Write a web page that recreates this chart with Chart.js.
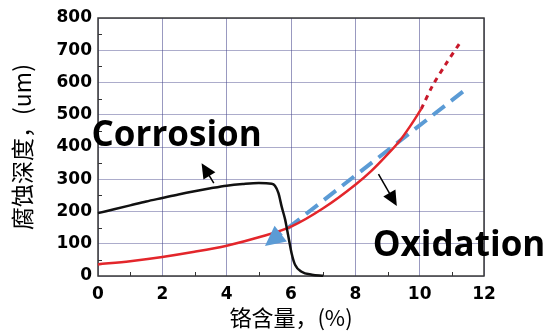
<!DOCTYPE html>
<html>
<head>
<meta charset="utf-8">
<script src="https://cdn.jsdelivr.net/npm/chart.js@4.4.1/dist/chart.umd.min.js"></script>
<style>
  html, body { margin: 0; padding: 0; background: #fff; }
  #wrap { width: 545px; height: 335px; }
</style>
</head>
<body>
<div id="wrap"><canvas id="c" width="545" height="335"></canvas></div>
<script>
// Corrosion depth vs chromium content
const corrosionX = [0, 0.5, 1, 1.5, 2, 2.5, 3, 3.5, 4, 4.5, 5, 5.4, 5.5, 5.61, 5.71, 5.82, 5.87, 5.92, 6.02, 6.13, 6.33, 6.65, 7.0];
const corrosionY = [195, 207, 219, 231, 242, 253, 263, 272, 280, 285, 288, 286, 280, 257, 215, 174, 148, 122, 70, 34, 13, 4, 1];

const oxidationX = [0, 1, 2, 3, 4, 5, 6, 7, 8, 8.5, 9, 9.4, 9.7, 10.05];
const oxidationY = [36, 46, 59, 75, 94, 120, 153, 210, 283, 326, 377, 422, 464, 518];

// extrapolated oxidation trend beyond 10 %
const oxidationExtX = [10.05, 10.4, 10.8, 11.3];
const oxidationExtY = [518, 590, 655, 730];

// linear oxidation trend (arrow points toward lower chromium)
const trendX = [5.19, 11.35];
const trendY = [93, 572];

// annotation arrows: [start, tip] in data units
const corrosionArrow = [[3.6, 288], [3.22, 350]];
const oxidationArrow = [[8.72, 316], [9.29, 217]];

const xTicks = [0, 2, 4, 6, 8, 10, 12];
const yTicks = [0, 100, 200, 300, 400, 500, 600, 700, 800];

const pts = (xs, ys) => xs.map((x, i) => ({ x, y: ys[i] }));

function drawArrowHead(ctx, x0, y0, x1, y1, len, half, color) {
  const a = Math.atan2(y1 - y0, x1 - x0);
  ctx.save();
  ctx.fillStyle = color;
  ctx.beginPath();
  ctx.moveTo(x1, y1);
  ctx.lineTo(x1 - len * Math.cos(a) + half * Math.sin(a), y1 - len * Math.sin(a) - half * Math.cos(a));
  ctx.lineTo(x1 - len * Math.cos(a) - half * Math.sin(a), y1 - len * Math.sin(a) + half * Math.cos(a));
  ctx.closePath();
  ctx.fill();
  ctx.restore();
}

const decorations = {
  id: 'decorations',
  beforeDatasetsDraw(chart) {
    const { ctx, chartArea: a, scales: { x, y } } = chart;
    ctx.save();
    // minor ticks, pointing inward
    ctx.strokeStyle = '#333';
    ctx.lineWidth = 1;
    ctx.beginPath();
    for (let v = 50; v < 800; v += 100) {
      const py = Math.round(y.getPixelForValue(v)) + 0.5;
      ctx.moveTo(a.left, py); ctx.lineTo(a.left + 4, py);
    }
    for (let v = 1; v < 12; v += 2) {
      const px = Math.round(x.getPixelForValue(v)) + 0.5;
      ctx.moveTo(px, a.bottom); ctx.lineTo(px, a.bottom - 4);
    }
    ctx.stroke();
    // frame
    ctx.strokeStyle = '#3a3a3a';
    ctx.lineWidth = 1.5;
    ctx.strokeRect(a.left, a.top, a.right - a.left, a.bottom - a.top);
    ctx.restore();
  },
  afterDatasetsDraw(chart) {
    const { ctx, scales: { x, y } } = chart;
    // arrowhead on the trend line
    const tx0 = x.getPixelForValue(trendX[1]), ty0 = y.getPixelForValue(trendY[1]);
    const tx1 = x.getPixelForValue(trendX[0]), ty1 = y.getPixelForValue(trendY[0]);
    drawArrowHead(ctx, tx0, ty0, tx1, ty1, 20, 10, '#5b9bd5');

    // black annotation arrows
    [corrosionArrow, oxidationArrow].forEach(([s, e]) => {
      const x0 = x.getPixelForValue(s[0]), y0 = y.getPixelForValue(s[1]);
      const x1 = x.getPixelForValue(e[0]), y1 = y.getPixelForValue(e[1]);
      const a = Math.atan2(y1 - y0, x1 - x0);
      ctx.save();
      ctx.strokeStyle = '#000';
      ctx.lineWidth = 1.5;
      ctx.beginPath();
      ctx.moveTo(x0, y0);
      ctx.lineTo(x1 - 10 * Math.cos(a), y1 - 10 * Math.sin(a));
      ctx.stroke();
      ctx.restore();
      drawArrowHead(ctx, x0, y0, x1, y1, 15, 7, '#000');
    });

    // labels
    ctx.save();
    ctx.fillStyle = '#000';
    ctx.font = 'bold 35px "Open Sans"';
    ctx.textBaseline = 'alphabetic';
    ctx.textAlign = 'left';
    ctx.fillText('Corrosion', x.getPixelForValue(-0.2), y.getPixelForValue(404));
    ctx.fillText('Oxidation', x.getPixelForValue(8.54), y.getPixelForValue(62));
    ctx.restore();
  }
};

new Chart(document.getElementById('c'), {
  type: 'line',
  data: {
    datasets: [
      { data: pts(corrosionX, corrosionY), borderColor: '#111', borderWidth: 2.5, cubicInterpolationMode: 'monotone', pointRadius: 0 },
      { data: pts(oxidationX, oxidationY), borderColor: '#e3262b', borderWidth: 2.5, cubicInterpolationMode: 'monotone', pointRadius: 0 },
      { data: pts(oxidationExtX, oxidationExtY), borderColor: '#c8182a', borderWidth: 3, borderDash: [5, 5], tension: 0.3, pointRadius: 0 },
      { data: pts(trendX, trendY), borderColor: '#5b9bd5', borderWidth: 4, borderDash: [15, 8], borderDashOffset: -6, pointRadius: 0 }
    ]
  },
  options: {
    responsive: false,
    animation: false,
    devicePixelRatio: 1,
    clip: false,
    layout: { padding: { top: 18, right: 61, left: 0, bottom: 0 } },
    plugins: { legend: { display: false }, tooltip: { enabled: false } },
    scales: {
      x: {
        type: 'linear', min: 0, max: 12,
        afterBuildTicks: s => { s.ticks = xTicks.map(v => ({ value: v })); },
        afterFit: s => { s.height = 59; },
        grid: { color: 'rgba(70,70,140,0.55)', lineWidth: 1, drawTicks: false },
        border: { display: false },
        ticks: { color: '#000', padding: 8, font: { family: 'DejaVu Sans', weight: 'bold', size: 17 } },
        title: { display: true, text: '铬含量，(%)', color: '#000', padding: { top: 0, bottom: 4 }, font: { family: 'Noto Sans CJK SC', size: 22 } }
      },
      y: {
        type: 'linear', min: 0, max: 800,
        afterBuildTicks: s => { s.ticks = yTicks.map(v => ({ value: v })); },
        afterFit: s => { s.width = 98; },
        grid: { color: 'rgba(70,70,140,0.45)', lineWidth: 1, drawTicks: false },
        border: { display: false },
        ticks: { color: '#000', padding: 6, font: { family: 'DejaVu Sans', weight: 'bold', size: 17 } },
        title: { display: true, text: '腐蚀深度，(um)', color: '#000', padding: { top: 8, bottom: 0 }, font: { family: 'Noto Sans CJK SC', size: 23 } }
      }
    }
  },
  plugins: [decorations]
});
</script>
</body>
</html>
